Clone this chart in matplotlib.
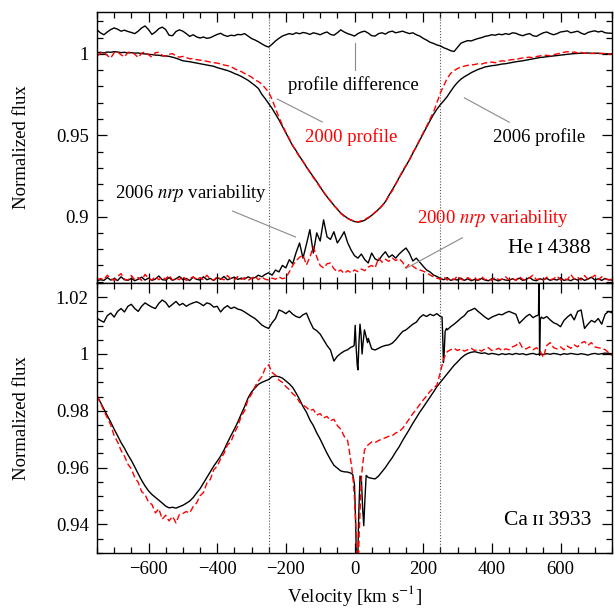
import numpy as np
import matplotlib
matplotlib.use("Agg")
import matplotlib.pyplot as plt
from matplotlib.ticker import MultipleLocator, FuncFormatter

plt.rcParams['font.family'] = ['Liberation Serif', 'DejaVu Serif']
plt.rcParams['mathtext.fontset'] = 'stix'
plt.rcParams['font.size'] = 13.5

# ---------------- data ----------------
velocity = np.arange(-750, 751, 10)

# He I 4388 panel
he_diff = [
    1.0148, 1.0130, 1.0118, 1.0135, 1.0150, 1.0160, 1.0152, 1.0140, 1.0146, 1.0138,
    1.0132, 1.0125, 1.0140, 1.0160, 1.0172, 1.0150, 1.0120, 1.0135, 1.0155, 1.0165,
    1.0150, 1.0115, 1.0112, 1.0138, 1.0148, 1.0140, 1.0125, 1.0108, 1.0118, 1.0105,
    1.0098, 1.0104, 1.0096, 1.0100, 1.0110, 1.0120, 1.0127, 1.0115, 1.0108, 1.0115,
    1.0112, 1.0120, 1.0118, 1.0125, 1.0110, 1.0095, 1.0086, 1.0075, 1.0062, 1.0050,
    1.0042, 1.0060, 1.0080, 1.0096, 1.0110, 1.0118, 1.0125, 1.0120, 1.0130, 1.0124,
    1.0132, 1.0128, 1.0120, 1.0130, 1.0125, 1.0118, 1.0128, 1.0135, 1.0120, 1.0115,
    1.0130, 1.0148, 1.0135, 1.0125, 1.0118, 1.0110, 1.0125, 1.0135, 1.0140, 1.0128,
    1.0112, 1.0110, 1.0125, 1.0130, 1.0122, 1.0135, 1.0140, 1.0130, 1.0135, 1.0140,
    1.0132, 1.0125, 1.0130, 1.0118, 1.0110, 1.0096, 1.0085, 1.0072, 1.0065, 1.0055,
    1.0050, 1.0038, 1.0030, 1.0020, 1.0015, 1.0040, 1.0066, 1.0075, 1.0082, 1.0080,
    1.0088, 1.0095, 1.0100, 1.0108, 1.0112, 1.0118, 1.0115, 1.0122, 1.0118, 1.0125,
    1.0120, 1.0130, 1.0127, 1.0118, 1.0112, 1.0120, 1.0125, 1.0112, 1.0108, 1.0120,
    1.0130, 1.0135, 1.0125, 1.0118, 1.0125, 1.0135, 1.0138, 1.0142, 1.0130, 1.0135,
    1.0140, 1.0128, 1.0120, 1.0132, 1.0138, 1.0142, 1.0135, 1.0140, 1.0130, 1.0128,
    1.0127]

he_2006 = [
    1.0008, 1.0010, 1.0006, 1.0012, 1.0010, 1.0014, 1.0012, 1.0008, 1.0010, 1.0006,
    1.0008, 1.0005, 1.0006, 1.0002, 1.0000, 0.9998, 0.9996, 0.9993, 0.9992, 0.9988,
    0.9988, 0.9985, 0.9980, 0.9974, 0.9966, 0.9958, 0.9955, 0.9952, 0.9948, 0.9944,
    0.9940, 0.9936, 0.9932, 0.9928, 0.9924, 0.9916, 0.9910, 0.9904, 0.9898, 0.9890,
    0.9880, 0.9872, 0.9862, 0.9850, 0.9838, 0.9822, 0.9806, 0.9788, 0.9752, 0.9725,
    0.9695, 0.9665, 0.9630, 0.9595, 0.9555, 0.9515, 0.9475, 0.9435, 0.9405, 0.9370,
    0.9340, 0.9305, 0.9275, 0.9245, 0.9215, 0.9182, 0.9150, 0.9122, 0.9095, 0.9070,
    0.9045, 0.9022, 0.9005, 0.8990, 0.8978, 0.8970, 0.8966, 0.8970, 0.8978, 0.8992,
    0.9008, 0.9025, 0.9045, 0.9065, 0.9092, 0.9130, 0.9165, 0.9200, 0.9240, 0.9275,
    0.9312, 0.9350, 0.9390, 0.9430, 0.9470, 0.9510, 0.9550, 0.9590, 0.9628, 0.9660,
    0.9688, 0.9712, 0.9738, 0.9770, 0.9800, 0.9825, 0.9845, 0.9860, 0.9872, 0.9885,
    0.9895, 0.9905, 0.9912, 0.9920, 0.9924, 0.9928, 0.9930, 0.9934, 0.9938, 0.9940,
    0.9944, 0.9948, 0.9952, 0.9955, 0.9958, 0.9962, 0.9966, 0.9970, 0.9974, 0.9978,
    0.9980, 0.9983, 0.9985, 0.9988, 0.9990, 0.9993, 0.9995, 0.9998, 1.0000, 1.0002,
    1.0003, 1.0005, 1.0004, 1.0006, 1.0004, 1.0003, 1.0005, 1.0002, 1.0001, 1.0000,
    1.0000]

he_2000 = [
    0.9985, 1.0005, 1.0012, 0.9990, 0.9975, 1.0008, 1.0012, 0.9995, 0.9982, 1.0010,
    1.0012, 0.9998, 0.9978, 1.0005, 1.0012, 0.9995, 0.9980, 1.0008, 1.0010, 0.9992,
    0.9985, 0.9998, 1.0002, 0.9988, 0.9980, 0.9985, 0.9978, 0.9970, 0.9972, 0.9965,
    0.9962, 0.9958, 0.9955, 0.9950, 0.9946, 0.9944, 0.9938, 0.9932, 0.9928, 0.9922,
    0.9910, 0.9900, 0.9892, 0.9880, 0.9870, 0.9858, 0.9840, 0.9830, 0.9815, 0.9790,
    0.9765, 0.9720, 0.9665, 0.9610, 0.9562, 0.9518, 0.9478, 0.9438, 0.9400, 0.9368,
    0.9338, 0.9308, 0.9272, 0.9240, 0.9212, 0.9180, 0.9152, 0.9120, 0.9098, 0.9068,
    0.9048, 0.9020, 0.9002, 0.8988, 0.8980, 0.8972, 0.8968, 0.8975, 0.8982, 0.8995,
    0.9005, 0.9028, 0.9042, 0.9068, 0.9090, 0.9128, 0.9158, 0.9200, 0.9238, 0.9282,
    0.9315, 0.9348, 0.9395, 0.9428, 0.9475, 0.9515, 0.9555, 0.9600, 0.9642, 0.9700,
    0.9760, 0.9805, 0.9850, 0.9880, 0.9898, 0.9910, 0.9920, 0.9925, 0.9930, 0.9932,
    0.9935, 0.9940, 0.9938, 0.9944, 0.9948, 0.9950, 0.9946, 0.9954, 0.9958, 0.9955,
    0.9962, 0.9966, 0.9964, 0.9972, 0.9975, 0.9978, 0.9980, 0.9976, 0.9984, 0.9988,
    0.9990, 0.9992, 0.9988, 0.9996, 1.0000, 1.0005, 1.0010, 1.0014, 1.0008, 1.0012,
    1.0006, 1.0010, 1.0004, 1.0008, 1.0002, 1.0006, 1.0000, 1.0004, 1.0002, 0.9998,
    1.0002]

nrp_2006 = [
    0.8606, 0.8612, 0.8608, 0.8625, 0.8610, 0.8618, 0.8607, 0.8630, 0.8612, 0.8608,
    0.8620, 0.8606, 0.8615, 0.8628, 0.8610, 0.8622, 0.8608, 0.8616, 0.8635, 0.8612,
    0.8610, 0.8625, 0.8608, 0.8618, 0.8632, 0.8612, 0.8620, 0.8607, 0.8628, 0.8615,
    0.8610, 0.8630, 0.8612, 0.8620, 0.8608, 0.8625, 0.8615, 0.8632, 0.8612, 0.8620,
    0.8628, 0.8614, 0.8622, 0.8616, 0.8630, 0.8620, 0.8625, 0.8640, 0.8630, 0.8645,
    0.8655, 0.8640, 0.8672, 0.8660, 0.8700, 0.8685, 0.8735, 0.8710, 0.8780, 0.8838,
    0.8745, 0.8830, 0.8920, 0.8776, 0.8900, 0.8850, 0.8980, 0.8876, 0.8860, 0.8907,
    0.8838, 0.8870, 0.8907, 0.8840, 0.8795, 0.8760, 0.8745, 0.8770, 0.8735, 0.8715,
    0.8776, 0.8740, 0.8730, 0.8760, 0.8784, 0.8750, 0.8765, 0.8745, 0.8770, 0.8790,
    0.8807, 0.8775, 0.8727, 0.8745, 0.8720, 0.8695, 0.8672, 0.8660, 0.8641, 0.8632,
    0.8620, 0.8612, 0.8625, 0.8608, 0.8615, 0.8610, 0.8622, 0.8608, 0.8618, 0.8606,
    0.8614, 0.8608, 0.8620, 0.8610, 0.8606, 0.8618, 0.8612, 0.8605, 0.8616, 0.8610,
    0.8608, 0.8618, 0.8610, 0.8622, 0.8608, 0.8614, 0.8626, 0.8610, 0.8606, 0.8618,
    0.8612, 0.8620, 0.8608, 0.8615, 0.8610, 0.8624, 0.8608, 0.8614, 0.8606, 0.8618,
    0.8610, 0.8622, 0.8608, 0.8616, 0.8628, 0.8610, 0.8618, 0.8608, 0.8620, 0.8612,
    0.8610]

nrp_2000 = [
    0.8610, 0.8620, 0.8612, 0.8640, 0.8618, 0.8608, 0.8632, 0.8650, 0.8615, 0.8610,
    0.8638, 0.8612, 0.8625, 0.8608, 0.8645, 0.8620, 0.8610, 0.8632, 0.8612, 0.8628,
    0.8615, 0.8640, 0.8610, 0.8622, 0.8612, 0.8635, 0.8608, 0.8618, 0.8630, 0.8610,
    0.8625, 0.8612, 0.8640, 0.8615, 0.8610, 0.8630, 0.8618, 0.8612, 0.8638, 0.8615,
    0.8610, 0.8632, 0.8614, 0.8625, 0.8608, 0.8620, 0.8635, 0.8612, 0.8628, 0.8615,
    0.8610, 0.8622, 0.8615, 0.8630, 0.8618, 0.8625, 0.8660, 0.8700, 0.8729, 0.8750,
    0.8764, 0.8703, 0.8750, 0.8815, 0.8752, 0.8700, 0.8684, 0.8710, 0.8715, 0.8680,
    0.8660, 0.8672, 0.8650, 0.8668, 0.8655, 0.8672, 0.8662, 0.8678, 0.8668, 0.8690,
    0.8700, 0.8685, 0.8745, 0.8720, 0.8738, 0.8725, 0.8745, 0.8730, 0.8742, 0.8720,
    0.8684, 0.8710, 0.8695, 0.8680, 0.8672, 0.8665, 0.8655, 0.8641, 0.8630, 0.8622,
    0.8615, 0.8630, 0.8610, 0.8622, 0.8612, 0.8635, 0.8615, 0.8608, 0.8625, 0.8612,
    0.8620, 0.8610, 0.8632, 0.8612, 0.8618, 0.8608, 0.8628, 0.8612, 0.8615, 0.8630,
    0.8612, 0.8620, 0.8608, 0.8632, 0.8614, 0.8610, 0.8625, 0.8640, 0.8612, 0.8620,
    0.8610, 0.8628, 0.8612, 0.8618, 0.8635, 0.8610, 0.8620, 0.8612, 0.8645, 0.8615,
    0.8625, 0.8610, 0.8638, 0.8615, 0.8622, 0.8640, 0.8612, 0.8630, 0.8618, 0.8610,
    0.8620]

# Ca II 3933 panel
ca_diff = [
    1.0126, 1.0118, 1.0112, 1.0135, 1.0144, 1.0130, 1.0150, 1.0160, 1.0148, 1.0168,
    1.0175, 1.0160, 1.0150, 1.0168, 1.0180, 1.0172, 1.0165, 1.0160, 1.0178, 1.0190,
    1.0182, 1.0165, 1.0175, 1.0185, 1.0172, 1.0178, 1.0168, 1.0175, 1.0180, 1.0184,
    1.0178, 1.0170, 1.0180, 1.0176, 1.0165, 1.0168, 1.0148, 1.0162, 1.0170, 1.0160,
    1.0165, 1.0158, 1.0155, 1.0148, 1.0140, 1.0132, 1.0125, 1.0114, 1.0102, 1.0095,
    1.0090, 1.0110, 1.0125, 1.0155, 1.0150, 1.0142, 1.0152, 1.0140, 1.0132, 1.0128,
    1.0138, 1.0144, 1.0115, 1.0090, 1.0082, 1.0070, 1.0050, 1.0030, 1.0014, 0.9975,
    0.9992, 1.0002, 1.0010, 1.0015, 1.0024, 1.0040, 0.9944, 1.0060, 1.0075, 1.0055,
    1.0018, 1.0014, 1.0020, 1.0026, 1.0030, 1.0032, 1.0038, 1.0050, 1.0065, 1.0079,
    1.0085, 1.0095, 1.0105, 1.0112, 1.0128, 1.0138, 1.0132, 1.0140, 1.0135, 1.0142,
    1.0132, 1.0040, 1.0085, 1.0096, 1.0105, 1.0115, 1.0126, 1.0135, 1.0150, 1.0155,
    1.0161, 1.0150, 1.0140, 1.0130, 1.0122, 1.0130, 1.0135, 1.0140, 1.0138, 1.0145,
    1.0150, 1.0145, 1.0140, 1.0108, 1.0120, 1.0132, 1.0140, 1.0128, 1.0135, 1.0145,
    1.0125, 1.0132, 1.0120, 1.0110, 1.0105, 1.0096, 1.0118, 1.0130, 1.0140, 1.0120,
    1.0150, 1.0155, 1.0090, 1.0105, 1.0118, 1.0112, 1.0125, 1.0105, 1.0140, 1.0150,
    1.0145]

ca_2006 = [
    0.9852, 0.9830, 0.9806, 0.9783, 0.9760, 0.9735, 0.9712, 0.9688, 0.9668, 0.9645,
    0.9625, 0.9602, 0.9578, 0.9555, 0.9535, 0.9518, 0.9505, 0.9495, 0.9485, 0.9475,
    0.9464, 0.9458, 0.9460, 0.9457, 0.9462, 0.9467, 0.9474, 0.9482, 0.9494, 0.9510,
    0.9525, 0.9545, 0.9565, 0.9585, 0.9605, 0.9622, 0.9640, 0.9662, 0.9688, 0.9712,
    0.9735, 0.9760, 0.9788, 0.9815, 0.9845, 0.9866, 0.9880, 0.9893, 0.9900, 0.9905,
    0.9910, 0.9920, 0.9922, 0.9920, 0.9915, 0.9905, 0.9895, 0.9882, 0.9862, 0.9840,
    0.9815, 0.9795, 0.9768, 0.9748, 0.9722, 0.9700, 0.9675, 0.9650, 0.9628, 0.9608,
    0.9598, 0.9588, 0.9585, 0.9584, 0.9580, 0.9560, 0.9350, 0.9540, 0.9500, 0.9565,
    0.9562, 0.9560, 0.9570, 0.9585, 0.9600, 0.9618, 0.9635, 0.9655, 0.9673, 0.9695,
    0.9715, 0.9735, 0.9756, 0.9775, 0.9795, 0.9812, 0.9830, 0.9848, 0.9866, 0.9885,
    0.9900, 0.9915, 0.9930, 0.9945, 0.9960, 0.9972, 0.9985, 0.9995, 1.0002, 1.0006,
    1.0008, 1.0005, 1.0002, 1.0004, 0.9999, 1.0002, 1.0000, 0.9997, 1.0001, 0.9998,
    1.0001, 0.9998, 1.0002, 0.9999, 1.0001, 0.9997, 1.0000, 1.0002, 0.9998, 1.0000,
    0.9998, 1.0001, 0.9999, 1.0002, 1.0000, 0.9997, 1.0001, 0.9999, 1.0002, 1.0000,
    0.9998, 1.0001, 0.9999, 0.9996, 1.0000, 1.0002, 0.9999, 1.0001, 1.0003, 1.0002,
    1.0001]

ca_2000 = [
    0.9852, 0.9828, 0.9800, 0.9775, 0.9750, 0.9712, 0.9690, 0.9660, 0.9640, 0.9612,
    0.9595, 0.9565, 0.9548, 0.9515, 0.9505, 0.9478, 0.9470, 0.9440, 0.9455, 0.9418,
    0.9432, 0.9412, 0.9428, 0.9405, 0.9435, 0.9438, 0.9445, 0.9440, 0.9462, 0.9475,
    0.9500, 0.9512, 0.9545, 0.9558, 0.9592, 0.9605, 0.9630, 0.9650, 0.9680, 0.9690,
    0.9722, 0.9745, 0.9780, 0.9800, 0.9840, 0.9858, 0.9885, 0.9905, 0.9920, 0.9950,
    0.9962, 0.9935, 0.9925, 0.9908, 0.9900, 0.9885, 0.9875, 0.9860, 0.9850, 0.9830,
    0.9820, 0.9812, 0.9800, 0.9805, 0.9785, 0.9790, 0.9775, 0.9780, 0.9765, 0.9770,
    0.9748, 0.9735, 0.9710, 0.9695, 0.9620, 0.9490, 0.9250, 0.9560, 0.9665, 0.9680,
    0.9690, 0.9688, 0.9695, 0.9700, 0.9705, 0.9710, 0.9712, 0.9722, 0.9726, 0.9738,
    0.9755, 0.9772, 0.9790, 0.9805, 0.9822, 0.9838, 0.9852, 0.9868, 0.9880, 0.9890,
    0.9935, 0.9985, 1.0008, 1.0015, 1.0020, 1.0012, 1.0018, 1.0010, 1.0015, 1.0020,
    1.0012, 1.0016, 1.0010, 1.0018, 1.0022, 1.0012, 1.0015, 1.0020, 1.0012, 1.0018,
    1.0015, 1.0025, 1.0030, 1.0042, 1.0020, 1.0018, 1.0025, 1.0015, 1.0022, 1.0012,
    0.9988, 1.0030, 1.0040, 1.0022, 1.0018, 1.0025, 1.0015, 1.0028, 1.0020, 1.0032,
    1.0025, 1.0038, 1.0044, 1.0030, 1.0040, 1.0025, 1.0022, 1.0020, 1.0015, 1.0005,
    0.9995]

# narrow features (interstellar Ca II core, spikes) read at finer velocity steps
ca_core_vel = [-5, 0, 3, 6, 9, 12, 16, 20, 24, 27, 30, 34, 38]
ca_2006_core = [0.9575, 0.9540, 0.9420, 0.9250, 0.9250, 0.9420, 0.9570, 0.9560,
                0.9450, 0.9395, 0.9480, 0.9572, 0.9568]
ca_2000_core_vel = [-20, -14, -8, -4, 0, 3, 6, 8, 11, 14, 17, 20, 23, 29, 35]
ca_2000_core = [0.9695, 0.9650, 0.9600, 0.9556, 0.9490, 0.9420, 0.9330, 0.9250,
                0.9250, 0.9380, 0.9470, 0.9560, 0.9603, 0.9661, 0.9675]
ca_diff_core_vel = [-5, -1, 2, 5, 8, 10, 13, 16, 19, 22, 25, 29, 34, 38]
ca_diff_core = [1.0026, 1.0030, 1.0101, 1.0020, 0.9960, 0.9944, 1.0040, 1.0105,
                1.0070, 1.0000, 1.0040, 1.0085, 1.0060, 1.0040]
ca_diff_dip_vel = [255, 257, 259, 261, 264, 268]
ca_diff_dip = [1.0130, 1.0060, 0.9970, 1.0000, 1.0080, 1.0090]
ca_diff_spike_vel = [533, 536, 537.5, 539, 541, 544]
ca_diff_spike = [1.0135, 1.0140, 1.0330, 0.9995, 1.0120, 1.0130]

for name, arr in [('he_diff', he_diff), ('he_2006', he_2006), ('he_2000', he_2000),
                  ('nrp_2006', nrp_2006), ('nrp_2000', nrp_2000), ('ca_diff', ca_diff),
                  ('ca_2006', ca_2006), ('ca_2000', ca_2000)]:
    if len(arr) != len(velocity):
        raise ValueError(f"{name}: {len(arr)}")


def merge(v, f, fv, ff):
    v = np.asarray(v, float)
    f = np.asarray(f, float)
    fv = np.asarray(fv, float)
    ff = np.asarray(ff, float)
    keep = (v < fv.min()) | (v > fv.max())
    vv = np.concatenate([v[keep], fv])
    yy = np.concatenate([f[keep], ff])
    o = np.argsort(vv)
    return vv[o], yy[o]


ca06_v, ca06_f = merge(velocity, ca_2006, ca_core_vel, ca_2006_core)
ca00_v, ca00_f = merge(velocity, ca_2000, ca_2000_core_vel, ca_2000_core)
cad_v, cad_f = merge(velocity, ca_diff, ca_diff_core_vel, ca_diff_core)
cad_v, cad_f = merge(cad_v, cad_f, ca_diff_dip_vel, ca_diff_dip)
cad_v, cad_f = merge(cad_v, cad_f, ca_diff_spike_vel, ca_diff_spike)

# ---------------- figure ----------------
fig = plt.figure(figsize=(6.15, 6.08), dpi=100)
L, W = 97 / 615, (612 - 97) / 615
ax1 = fig.add_axes([L, 1 - 283 / 608, W, (283 - 12.3) / 608])
ax2 = fig.add_axes([L, 1 - 552.7 / 608, W, (552.7 - 283) / 608])

red_dash = (0, (4.5, 2.2))
lw = 1.0
gray = '#8a8a8a'


def fmt(x, pos):
    return f"{x:g}".replace('-', '\u2212')


for ax in (ax1, ax2):
    ax.set_xlim(-750, 750)
    ax.axvline(-250, color='#555555', lw=0.8, ls=(0, (1, 1.6)))
    ax.axvline(250, color='#555555', lw=0.8, ls=(0, (1, 1.6)))
    ax.xaxis.set_major_locator(MultipleLocator(200))
    ax.xaxis.set_minor_locator(MultipleLocator(50))
    ax.tick_params(which='both', direction='in', top=True, right=True,
                   width=0.9, labelsize=13.5, pad=6)
    ax.tick_params(which='major', length=7)
    ax.tick_params(which='minor', length=4.5)
    ax.yaxis.set_major_formatter(FuncFormatter(fmt))
    ax.xaxis.set_major_formatter(FuncFormatter(fmt))
    for s in ax.spines.values():
        s.set_linewidth(1.0)

# top panel
ax1.plot(velocity, he_diff, color='black', lw=lw)
ax1.plot(velocity, he_2006, color='black', lw=lw)
ax1.plot(velocity, he_2000, color='red', lw=lw, ls=red_dash)
ax1.plot(velocity, nrp_2006, color='black', lw=lw)
ax1.plot(velocity, nrp_2000, color='red', lw=lw, ls=red_dash)
ax1.set_ylim(0.8592, 1.0256)
ax1.yaxis.set_major_locator(MultipleLocator(0.05))
ax1.yaxis.set_minor_locator(MultipleLocator(0.01))
ax1.tick_params(labelbottom=False)

ax1.text(-3, 0.981, 'profile difference', ha='center', va='center', color='black')
ax1.plot([0, 0], [1.0068, 0.990], color=gray, lw=0.8)
ax1.text(-9, 0.949, '2000 profile', ha='center', va='center', color='red')
ax1.plot([-225, -94], [0.9723, 0.9582], color=gray, lw=0.8)
ax1.text(537, 0.949, '2006 profile', ha='center', va='center', color='black')
ax1.plot([320, 451], [0.973, 0.958], color=gray, lw=0.8)
ax1.text(-477, 0.9145, '2006 $\\it{nrp}$ variability', ha='center', va='center', color='black')
ax1.plot([-355, -172], [0.9034, 0.8875], color=gray, lw=0.8)
ax1.text(403, 0.899, '2000 $\\it{nrp}$ variability', ha='center', va='center', color='red')
ax1.plot([314, 152], [0.887, 0.8684], color=gray, lw=0.8)
ax1.text(688, 0.8807, 'He\u2009\u026a\u20094388', ha='right', va='center',
         color='black', fontsize=15.5)

# bottom panel
ax2.plot(cad_v, cad_f, color='black', lw=lw)
ax2.plot(ca06_v, ca06_f, color='black', lw=lw)
ax2.plot(ca00_v, ca00_f, color='red', lw=lw, ls=red_dash)
ax2.set_ylim(0.93, 1.025)
ax2.yaxis.set_major_locator(MultipleLocator(0.02))
ax2.yaxis.set_minor_locator(MultipleLocator(0.005))
ax2.text(690, 0.9414, 'Ca\u2009\u026a\u026a\u20093933', ha='right', va='center',
         color='black', fontsize=15.5)

fig.text(22 / 615, 1 - 147.6 / 608, 'Normalized flux', rotation=90, ha='center', va='center')
fig.text(22 / 615, 1 - 417.8 / 608, 'Normalized flux', rotation=90, ha='center', va='center')
fig.text(354.8 / 615, 1 - 595 / 608, 'Velocity [km s$^{-1}$]', ha='center', va='center')

fig.savefig('out.png', dpi=100)
